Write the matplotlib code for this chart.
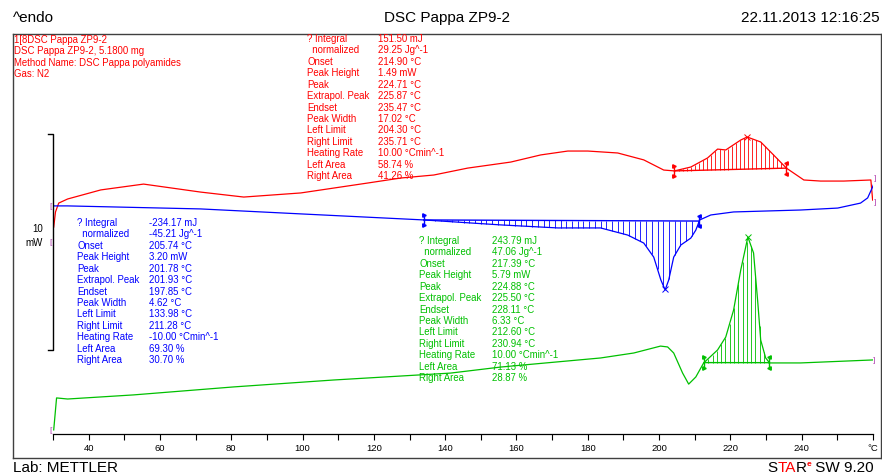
import matplotlib
matplotlib.use("Agg")
import matplotlib.pyplot as plt
import numpy as np
from matplotlib.lines import Line2D

plt.rcParams['font.family'] = ['Liberation Sans', 'DejaVu Sans']

# curves: temperature (°C) and heat flow (mW, offset)
red_T = [30.2, 30.7, 31.6, 34.1, 43.4, 55.4, 71.4, 83.5, 99.5, 118.3, 127.5, 136.8,
         146.3, 158.4, 166.8, 174.4, 180.0, 188.4, 195.7, 201.3, 204.3, 208.9, 213.6,
         216.4, 218.7, 222.9, 224.7, 228.5, 232.1, 235.7, 240.6, 245.3, 251.8, 259.4, 259.9]
red_mW = [9.58, 10.28, 10.69, 10.88, 11.30, 11.57, 11.20, 10.97, 11.16, 11.62, 11.85, 11.99,
          12.31, 12.59, 12.92, 13.10, 13.10, 13.01, 12.69, 12.22, 12.18, 12.36, 12.78,
          13.19, 13.15, 13.61, 13.75, 13.52, 12.92, 12.31, 11.76, 11.71, 11.71, 11.76, 10.83]

blue_T = [29.9, 34.1, 71.4, 99.5, 134.0, 155.6, 171.6, 183.6, 191.2, 195.7, 198.5, 200.5,
          201.7, 202.7, 204.1, 206.1, 208.9, 210.3, 211.4, 214.5, 220.9, 239.7, 250.1,
          256.5, 258.5, 259.9, 260.8]
blue_mW = [10.56, 10.56, 10.42, 10.19, 9.91, 9.68, 9.54, 9.54, 9.21, 8.84, 8.19, 7.13,
           6.67, 7.13, 8.19, 8.75, 9.07, 9.44, 9.91, 10.14, 10.28, 10.37, 10.46,
           10.69, 10.93, 11.44, 11.85]

green_T = [30.2, 31.0, 34.1, 52.6, 80.7, 108.7, 141.5, 155.6, 183.6, 192.9, 200.4, 202.4,
           204.1, 206.6, 208.3, 210.3, 212.5, 216.4, 218.7, 220.9, 222.9, 224.9, 226.5,
           227.7, 228.5, 229.9, 231.0, 239.7, 260.2]
green_mW = [0.19, 1.67, 1.62, 1.81, 2.18, 2.50, 2.82, 3.10, 3.52, 3.75, 4.07, 4.03,
            3.75, 2.82, 2.31, 2.64, 3.29, 3.89, 4.49, 5.74, 7.59, 9.12, 8.38,
            6.06, 4.35, 3.52, 3.29, 3.29, 3.43]

# evaluation limits and peaks (from the result tables)
red_limits = (204.30, 235.71)
red_peak = 224.71
blue_limits = (133.98, 211.28)
blue_peak = 201.78
green_limits = (212.60, 230.94)
green_peak = 224.88

table_labels = ['? Integral', '  normalized', 'Onset', 'Peak Height', 'Peak', 'Extrapol. Peak',
                'Endset', 'Peak Width', 'Left Limit', 'Right Limit', 'Heating Rate',
                'Left Area', 'Right Area']
red_values = ['151.50 mJ', '29.25 Jg^-1', '214.90 °C', '1.49 mW', '224.71 °C', '225.87 °C',
              '235.47 °C', '17.02 °C', '204.30 °C', '235.71 °C', '10.00 °Cmin^-1',
              '58.74 %', '41.26 %']
blue_values = ['-234.17 mJ', '-45.21 Jg^-1', '205.74 °C', '3.20 mW', '201.78 °C', '201.93 °C',
               '197.85 °C', '4.62 °C', '133.98 °C', '211.28 °C', '-10.00 °Cmin^-1',
               '69.30 %', '30.70 %']
green_values = ['243.79 mJ', '47.06 Jg^-1', '217.39 °C', '5.79 mW', '224.88 °C', '225.50 °C',
                '228.11 °C', '6.33 °C', '212.60 °C', '230.94 °C', '10.00 °Cmin^-1',
                '71.13 %', '28.87 %']

info_lines = ['1[8DSC Pappa ZP9-2', 'DSC Pappa ZP9-2, 5.1800 mg',
              'Method Name: DSC Pappa polyamides', 'Gas: N2']

tick_vals = [40, 60, 80, 100, 120, 140, 160, 180, 200, 220, 240, 260]
tick_labels = ['40', '60', '80', '100', '120', '140', '160', '180', '200', '220', '240', '°C']

RED = '#ff0000'
BLUE = '#0000ff'
GREEN = '#00c000'
PURPLE = '#b040b0'

W, H = 882, 475
PX_PER_MW = 21.6


def fx(x):
    return x / W


def fy(y):
    return 1 - y / H


fig = plt.figure(figsize=(W / 100, H / 100), dpi=100)
ax = fig.add_axes([fx(53), fy(434), (873 - 53) / W, 400 / H])
ax.set_xlim(30, 260)
ax.set_ylim(0, 400 / PX_PER_MW)
for s in ['top', 'right', 'left']:
    ax.spines[s].set_visible(False)
ax.spines['bottom'].set_linewidth(0.9)
ax.set_yticks([])
ax.set_xticks(tick_vals)
ax.set_xticklabels(tick_labels, fontsize=6.8)
ax.set_xticks(np.arange(30, 260, 20), minor=True)
ax.tick_params(axis='x', which='both', direction='out', length=4, width=0.8, pad=3)
ax.patch.set_visible(False)


def hatch(T, mW, lims, peak, step, color):
    lo, hi = lims
    y0 = np.interp([lo, hi], T, mW)
    ts = np.arange(lo + step, hi, step)
    base = np.interp(ts, [lo, hi], y0)
    ax.vlines(ts, base, np.interp(ts, T, mW), color=color, lw=0.6)
    ax.plot([lo, hi], y0, color=color, lw=1.0)
    for t, y, m in [(lo, y0[0], '>'), (hi, y0[1], '<')]:
        ax.plot([t, t], [y - 0.25, y + 0.25], color=color, lw=1.0)
        ax.plot([t, t], [y - 0.25, y + 0.25], ls='none', marker=m, ms=2.5, color=color)
    ax.plot([peak], [np.interp(peak, T, mW)], marker='x', ms=4, mew=0.7, color=color)


ax.plot(red_T, red_mW, color=RED, lw=0.9)
ax.plot(blue_T, blue_mW, color=BLUE, lw=0.9)
ax.plot(green_T, green_mW, color=GREEN, lw=0.9)
hatch(red_T, red_mW, red_limits, red_peak, 1.15, RED)
hatch(blue_T, blue_mW, blue_limits, blue_peak, 1.6, BLUE)
hatch(green_T, green_mW, green_limits, green_peak, 1.2, GREEN)

# 10 mW scale bar
bar_lo = (434 - 350) / PX_PER_MW
ax.plot([28.6, 30, 30, 28.6], [bar_lo, bar_lo, bar_lo + 10, bar_lo + 10],
        color='black', lw=1.0, clip_on=False)
fig.text(fx(38), fy(229), '10', fontsize=7, ha='center', va='center')
fig.text(fx(34), fy(243), 'mW', fontsize=7, ha='center', va='center')

# curve end brackets
for x, y, s in [(51, 206, '['), (51, 242, '['), (51, 430, '['),
                (875, 178, ']'), (875, 202, ']'), (874, 360, ']')]:
    fig.text(fx(x), fy(y), s, fontsize=6, color=PURPLE, ha='center', va='center')

# frame
for xs, ys in [([13, W], [34, 34]), ([13, 13], [34, 458]), ([13, W], [458, 458]),
               ([W - 1, W - 1], [34, 458])]:
    fig.add_artist(Line2D([fx(v) for v in xs], [fy(v) for v in ys],
                          color='#404040', lw=1.0))

# header / footer
fig.text(fx(13), fy(18), '^endo', fontsize=11, ha='left', va='center')
fig.text(fx(447), fy(18), 'DSC Pappa ZP9-2', fontsize=11, ha='center', va='center')
fig.text(fx(880), fy(18), '22.11.2013 12:16:25', fontsize=11, ha='right', va='center')
fig.text(fx(13), fy(468), 'Lab: METTLER', fontsize=11, ha='left', va='center')

renderer = fig.canvas.get_renderer()
xpos = 767
for s, c, fs, dy in [('S', 'black', 11, 0), ('TA', RED, 11, 0), ('R', 'black', 11, 0),
                     ('e', RED, 6, -4), (' SW 9.20', 'black', 11, 0)]:
    t = fig.text(fx(xpos), fy(468 + dy), s, fontsize=fs, color=c, ha='left', va='center',
                 fontweight='bold' if s == 'e' else 'normal')
    xpos += t.get_window_extent(renderer).width

# info text and result tables
for i, s in enumerate(info_lines):
    fig.text(fx(13.5), fy(40 + i * 11.3), s, fontsize=6.9, color=RED, ha='left', va='center')

for labels_x, values_x, y0, values, color in [(307, 378, 39, red_values, RED),
                                              (77, 149, 223, blue_values, BLUE),
                                              (419, 492, 241, green_values, GREEN)]:
    for i, (lab, val) in enumerate(zip(table_labels, values)):
        y = y0 + i * 11.42
        fig.text(fx(labels_x), fy(y), lab, fontsize=6.9, color=color, ha='left', va='center')
        fig.text(fx(values_x), fy(y), val, fontsize=6.9, color=color, ha='left', va='center')

fig.savefig('out.png', dpi=100)
